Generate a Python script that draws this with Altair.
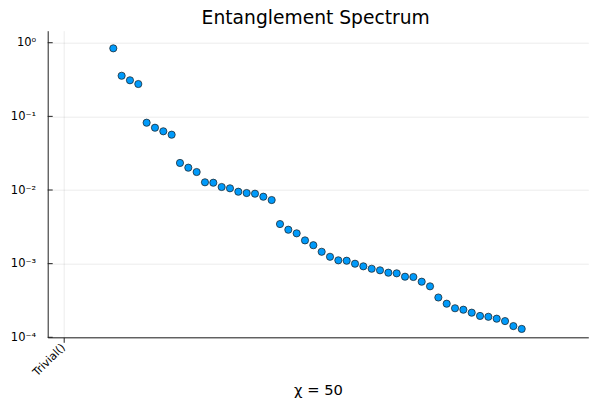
import altair as alt
import pandas as pd

# Entanglement spectrum values (50 singular values, chi = 50)
values = [
    0.839, 0.356, 0.309, 0.275,
    0.0820, 0.0701, 0.0627, 0.0564,
    0.0233, 0.0201, 0.01755, 0.01273, 0.01256, 0.01099, 0.01055,
    0.00948, 0.00910, 0.00891, 0.00811, 0.00731,
    0.00345, 0.00289, 0.00258, 0.00207, 0.00178, 0.00145, 0.00124,
    0.00111, 0.001096, 0.000998, 0.000920, 0.000853, 0.000812,
    0.000754, 0.000739, 0.000665, 0.000659, 0.000569, 0.000492,
    0.000347, 0.000286, 0.000248, 0.000237, 0.000216, 0.000195,
    0.000190, 0.000179, 0.000166, 0.000142, 0.000130,
]
index = list(range(1, len(values) + 1))

sector_ticks = [-5]
sector_labels = ["Trivial()"]

y_ticks = [1e-4, 1e-3, 1e-2, 1e-1, 1.0]
y_tick_labels = ["10⁻⁴", "10⁻³", "10⁻²", "10⁻¹", "10⁰"]

title_text = "Entanglement Spectrum"
x_title = "χ = 50"

df = pd.DataFrame({"i": index, "v": values})
df_yticks = pd.DataFrame({"v": y_ticks})
df_title = pd.DataFrame({"t": [title_text]})

# label expressions built from the arrays above
x_label_expr = " : ".join(
    [f"datum.value == {t} ? '{l}'" for t, l in zip(sector_ticks, sector_labels)]
) + " : ''"
y_label_expr = "[" + ",".join(f"'{l}'" for l in y_tick_labels) + "][round(log(datum.value)/LN10) + 4]"

FONT = "DejaVu Sans"

x_enc = alt.X(
    "i:Q",
    scale=alt.Scale(domain=[-6.87, 57.99], nice=False, zero=False),
    axis=alt.Axis(
        values=sector_ticks,
        labelExpr=x_label_expr,
        labelAngle=-45,
        labelAlign="right",
        labelBaseline="middle",
        labelPadding=3,
        labelFont=FONT,
        labelFontSize=11,
        labelColor="#000",
        title=x_title,
        titleFont=FONT,
        titleFontSize=14.7,
        titleFontWeight="normal",
        titleColor="#000",
        titleBaseline="alphabetic",
        titleY=57.5,
        grid=True,
        gridColor="#000",
        gridOpacity=0.1,
        gridWidth=0.8,
        domainColor="#222",
        domainWidth=1,
        tickColor="#222",
        tickSize=5,
    ),
)

y_scale = alt.Scale(type="log", domain=[1e-4, 1.456], nice=False)

y_enc = alt.Y(
    "v:Q",
    scale=y_scale,
    axis=alt.Axis(
        values=y_ticks,
        labelExpr=y_label_expr,
        labelFont=FONT,
        labelFontSize=11.5,
        labelColor="#000",
        labelPadding=12,
        title=None,
        grid=True,
        gridColor="#000",
        gridOpacity=0.1,
        gridWidth=0.8,
        domainColor="#222",
        domainWidth=1,
        ticks=False,
    ),
)

points = (
    alt.Chart(df)
    .mark_circle(size=52, color="#009AFA", stroke="#1a1a1a", strokeWidth=0.7, opacity=1)
    .encode(x=x_enc, y=y_enc)
)

# inward y-axis tick marks
yticks = (
    alt.Chart(df_yticks)
    .mark_rule(color="#222", strokeWidth=1)
    .encode(y=alt.Y("v:Q", scale=y_scale), x=alt.value(0), x2=alt.value(5))
)

title_mark = (
    alt.Chart(df_title)
    .mark_text(font=FONT, fontSize=18.7, color="#000", align="center", baseline="alphabetic")
    .encode(text="t:N", x=alt.value(268), y=alt.value(-6.5))
)

chart = (
    alt.layer(points, yticks, title_mark)
    .properties(
        width=540.6,
        height=306.6,
        autosize=alt.AutoSizeParams(type="none"),
        padding={"left": 39.7, "top": 22.7, "right": 3.7, "bottom": 62.7},
        background="white",
    )
    .configure_view(stroke=None)
)

chart.save("out.html", embed_options={"renderer": "svg", "actions": False})
